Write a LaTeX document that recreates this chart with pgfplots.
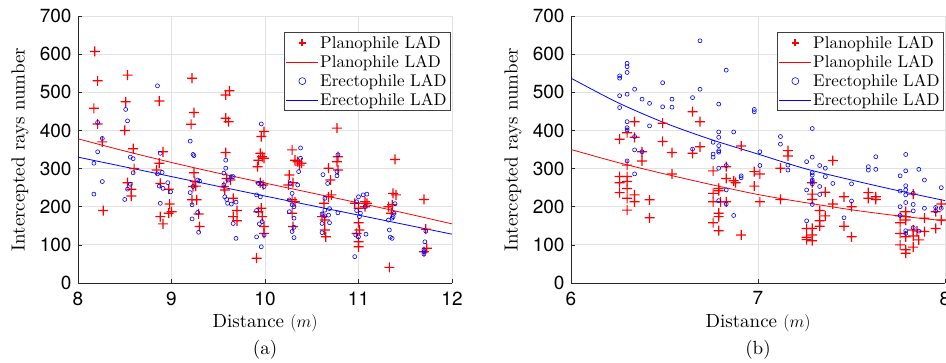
\documentclass[border=0pt]{standalone}
\usepackage{fontspec}
\setmainfont{lmroman10-regular.otf}[ItalicFont=lmroman10-italic.otf, BoldFont=lmroman10-bold.otf]
\usepackage{pgfplots}
\pgfplotsset{compat=1.18}
\newfontfamily\ticksans{TeX Gyre Heros}
\definecolor{gridc}{RGB}{226,226,226}
\definecolor{axc}{RGB}{38,38,38}
\definecolor{pred}{RGB}{255,0,0}
\definecolor{pblue}{RGB}{0,0,255}
\pgfdeclareplotmark{fplus}{%
  \pgfpathrectangle{\pgfqpoint{-\pgfplotmarksize}{-0.6pt}}{\pgfqpoint{2\pgfplotmarksize}{1.2pt}}%
  \pgfpathrectangle{\pgfqpoint{-0.6pt}{-\pgfplotmarksize}}{\pgfqpoint{1.2pt}{2\pgfplotmarksize}}%
  \pgfusepathqfill}
\pgfplotsset{
 myax/.style={
  scale only axis, width=374pt, height=267pt,
  ymin=0, ymax=700, ytick={0,100,...,700},
  axis x line*=bottom, axis y line*=left,
  axis line style={-, draw=axc, line width=0.8pt},
  tick align=inside, major tick length=4pt,
  tick style={draw=axc, line width=0.6pt},
  grid=major, major grid style={draw=gridc, line width=0.8pt},
  /pgf/number format/assume math mode=true,
  tick label style={font=\ticksans\fontsize{19}{21}\selectfont},
  yticklabel style={xshift=-3pt},
  xticklabel style={yshift=-5pt},
  label style={font=\fontsize{19}{23}\selectfont},
  xlabel={Distance $(m)$},
  ylabel={Intercepted rays number},
  xlabel style={at={(axis description cs:0.5,-0.15)}, anchor=center},
  ylabel style={at={(axis description cs:-0.155,0.5)}, anchor=center},
  legend cell align=left,
  legend style={at={(rel axis cs:0.996,0.94)}, anchor=north east,
    draw=black!75, line width=0.8pt, font=\fontsize{17}{20}\selectfont,
    inner xsep=2pt, inner ysep=2pt, row sep=2.5pt, nodes={inner sep=1.5pt}},
 },
 plane/.style={only marks, mark=fplus, mark size=5pt, draw=pred, fill=pred,
   mark options={draw=none, fill=pred},
   legend image code/.code={\fill[pred] (13pt,-0.5pt) rectangle (19pt,0.5pt) (15.5pt,-3pt) rectangle (16.5pt,3pt);}},
 circ/.style={only marks, mark=o, mark size=2pt, draw=pblue, line width=0.6pt,
   mark options={draw=pblue},
   legend image code/.code={\draw[draw=pblue, mark=o, mark size=3.5pt, line width=0.6pt] plot coordinates {(16pt,0pt)};}},
 fitline/.style={no marks, smooth, line width=0.8pt,
   legend image code/.code={\draw[##1] (0pt,0pt) -- (32pt,0pt);}},
}
\begin{document}
\begin{tikzpicture}
\useasboundingbox (0,0) rectangle (946pt,362pt);
\begin{axis}[myax, name=A, at={(78pt,79pt)}, anchor=south west,
  xmin=8, xmax=12, xtick={8,9,10,11,12}]
\addplot[plane] coordinates {(8.18,607)(8.21,530)(8.17,458)(8.21,417)(8.27,190)(8.26,370)(8.50,400)(8.51,475)(8.53,545)(8.53,263)(8.57,246)(8.57,228)(8.59,352)(8.60,300)(8.87,477)(8.91,344)(8.87,314)(8.84,296)(8.88,261)(8.88,174)(8.91,155)(8.97,246)(8.98,207)(8.97,183)(9.00,187)(9.22,537)(9.24,447)(9.21,416)(9.24,289)(9.25,266)(9.22,218)(9.27,218)(9.23,253)(9.26,254)(9.29,181)(9.30,148)(9.58,493)(9.62,504)(9.58,432)(9.61,423)(9.58,342)(9.59,274)(9.63,270)(9.57,244)(9.56,253)(9.66,222)(9.70,190)(9.66,174)(9.70,163)(9.91,65)(9.93,187)(9.96,196)(9.97,174)(9.99,148)(9.99,130)(9.93,322)(9.92,305)(9.95,340)(9.96,384)(9.99,397)(9.97,331)(9.99,327)(9.95,263)(9.98,257)(10.29,349)(10.26,283)(10.25,257)(10.30,263)(10.32,322)(10.35,318)(10.37,309)(10.39,314)(10.29,218)(10.32,213)(10.29,183)(10.30,148)(10.63,209)(10.61,174)(10.64,165)(10.64,139)(10.65,121)(10.68,301)(10.70,270)(10.68,226)(10.71,231)(10.77,406)(10.77,318)(10.78,331)(10.78,296)(10.96,209)(11.00,196)(11.00,158)(10.98,130)(11.01,139)(11.00,108)(11.00,95)(11.07,213)(11.09,209)(11.07,200)(11.33,41)(11.32,200)(11.36,205)(11.35,183)(11.37,235)(11.40,231)(11.39,324)(11.70,219)(11.72,141)(11.70,82)(11.73,91)};
\addlegendentry{Planophile LAD}
\addplot[fitline, draw=pred] coordinates {(8,378)(8.5,346)(9,316)(9.5,288)(10,262)(10.5,236)(11,210)(11.5,183)(12,155)};
\addlegendentry{Planophile LAD}
\addplot[circ] coordinates {(8.85,517)(8.51,455)(8.53,425)(8.21,421)(8.26,379)(8.21,344)(8.17,314)(8.26,266)(8.17,233)(8.56,330)(8.59,326)(8.59,289)(8.56,259)(8.53,246)(8.50,219)(8.88,340)(8.90,290)(8.85,286)(8.87,254)(8.91,248)(8.96,263)(8.99,239)(8.88,209)(9.20,372)(9.23,337)(9.24,334)(9.28,270)(9.30,267)(9.23,253)(9.20,237)(9.22,205)(9.28,185)(9.22,168)(9.29,133)(9.58,322)(9.58,301)(9.56,288)(9.64,279)(9.66,279)(9.61,270)(9.56,257)(9.57,226)(9.59,219)(9.60,209)(9.69,212)(9.64,207)(9.66,156)(9.69,117)(9.96,417)(9.93,261)(9.96,261)(9.99,253)(9.91,231)(9.95,226)(9.91,190)(9.94,155)(9.97,161)(9.99,126)(9.91,121)(9.96,95)(10.38,354)(10.38,327)(10.36,292)(10.35,257)(10.27,261)(10.29,235)(10.26,218)(10.29,205)(10.31,200)(10.26,187)(10.31,170)(10.29,135)(10.31,146)(10.31,119)(10.62,284)(10.67,261)(10.64,222)(10.69,195)(10.64,191)(10.61,181)(10.64,176)(10.68,178)(10.61,156)(10.69,158)(10.61,132)(10.77,292)(10.77,281)(10.78,336)(10.78,184)(11.00,226)(10.98,213)(10.98,190)(11.02,183)(11.01,174)(11.05,231)(11.09,233)(11.07,200)(10.97,126)(11.00,121)(10.96,69)(11.08,128)(11.32,165)(11.33,139)(11.34,120)(11.36,117)(11.39,208)(11.38,183)(11.37,174)(11.36,170)(11.72,136)(11.71,108)(11.70,87)(11.70,76)(11.70,82)};
\addlegendentry{Erectophile LAD}
\addplot[fitline, draw=pblue] coordinates {(8,330)(9,279)(10,228)(11,178)(12,128)};
\addlegendentry{Erectophile LAD}
\end{axis}
\node[font=\fontsize{19}{23}\selectfont] at ([yshift=-67pt]A.south) {(a)};
\begin{axis}[myax, name=B, at={(571pt,79pt)}, anchor=south west,
  xmin=6, xmax=8, xtick={6,7,8}]
\addplot[plane] coordinates {(6.26,377)(6.26,279)(6.26,263)(6.26,237)(6.30,394)(6.30,309)(6.30,279)(6.30,266)(6.30,248)(6.30,222)(6.30,191)(6.34,423)(6.34,382)(6.34,231)(6.34,213)(6.38,344)(6.38,320)(6.42,218)(6.42,171)(6.49,419)(6.49,371)(6.54,342)(6.54,286)(6.65,449)(6.69,423)(6.69,357)(6.65,340)(6.76,294)(6.76,235)(6.76,213)(6.76,158)(6.79,248)(6.79,242)(6.80,213)(6.79,183)(6.79,174)(6.79,137)(6.83,305)(6.83,274)(6.83,213)(6.87,268)(6.88,263)(6.91,359)(6.91,126)(6.98,292)(6.98,254)(7.01,286)(7.01,213)(7.12,301)(7.12,219)(7.16,347)(7.16,333)(7.26,143)(7.26,120)(7.26,114)(7.29,263)(7.29,233)(7.29,219)(7.29,143)(7.29,126)(7.29,111)(7.33,190)(7.33,163)(7.33,149)(7.36,238)(7.36,176)(7.40,321)(7.40,207)(7.46,226)(7.46,149)(7.50,200)(7.50,121)(7.59,237)(7.59,222)(7.63,226)(7.63,219)(7.76,176)(7.76,158)(7.76,130)(7.76,100)(7.79,187)(7.79,174)(7.79,165)(7.79,121)(7.79,87)(7.79,78)(7.83,233)(7.83,139)(7.83,123)(7.83,94)(7.85,136)(7.86,113)(7.89,170)(7.89,135)(7.95,143)(7.95,187)(7.98,207)(7.98,165)};
\addlegendentry{Planophile LAD}
\addplot[fitline, draw=pred] coordinates {(6,350)(6.25,316)(6.5,286)(6.75,258)(7,232)(7.25,211)(7.5,192)(7.75,176)(8,163)};
\addlegendentry{Planophile LAD}
\addplot[circ] coordinates {(6.26,543)(6.26,537)(6.26,491)(6.26,460)(6.30,576)(6.30,567)(6.30,552)(6.30,495)(6.30,423)(6.30,407)(6.30,401)(6.30,320)(6.34,508)(6.34,384)(6.34,349)(6.34,286)(6.38,482)(6.38,344)(6.42,471)(6.42,412)(6.49,525)(6.49,462)(6.54,482)(6.54,461)(6.65,486)(6.69,635)(6.69,508)(6.65,351)(6.76,369)(6.76,338)(6.76,330)(6.79,469)(6.79,396)(6.79,382)(6.79,360)(6.79,347)(6.79,343)(6.79,301)(6.79,216)(6.83,558)(6.83,308)(6.83,244)(6.83,207)(6.87,396)(6.87,177)(6.91,281)(6.91,276)(6.98,455)(6.98,449)(7.01,344)(7.01,308)(7.12,384)(7.12,364)(7.16,309)(7.16,296)(7.26,318)(7.26,244)(7.26,163)(7.29,405)(7.29,330)(7.29,289)(7.29,283)(7.29,270)(7.29,266)(7.29,260)(7.29,206)(7.33,308)(7.33,253)(7.33,232)(7.36,301)(7.36,279)(7.40,261)(7.46,171)(7.50,260)(7.50,215)(7.59,305)(7.59,296)(7.63,331)(7.63,298)(7.76,281)(7.76,241)(7.76,200)(7.76,177)(7.79,337)(7.79,294)(7.79,255)(7.79,244)(7.79,231)(7.79,211)(7.79,137)(7.79,130)(7.83,235)(7.83,206)(7.83,189)(7.83,145)(7.86,298)(7.86,136)(7.89,270)(7.89,196)(7.95,198)(7.95,189)(7.98,250)(7.98,196)};
\addlegendentry{Erectophile LAD}
\addplot[fitline, draw=pblue] coordinates {(6,537)(6.25,473)(6.5,420)(6.75,376)(7,338)(7.25,300)(7.5,270)(7.75,242)(8,216)};
\addlegendentry{Erectophile LAD}
\end{axis}
\node[font=\fontsize{19}{23}\selectfont] at ([yshift=-67pt]B.south) {(b)};
\end{tikzpicture}
\end{document}
